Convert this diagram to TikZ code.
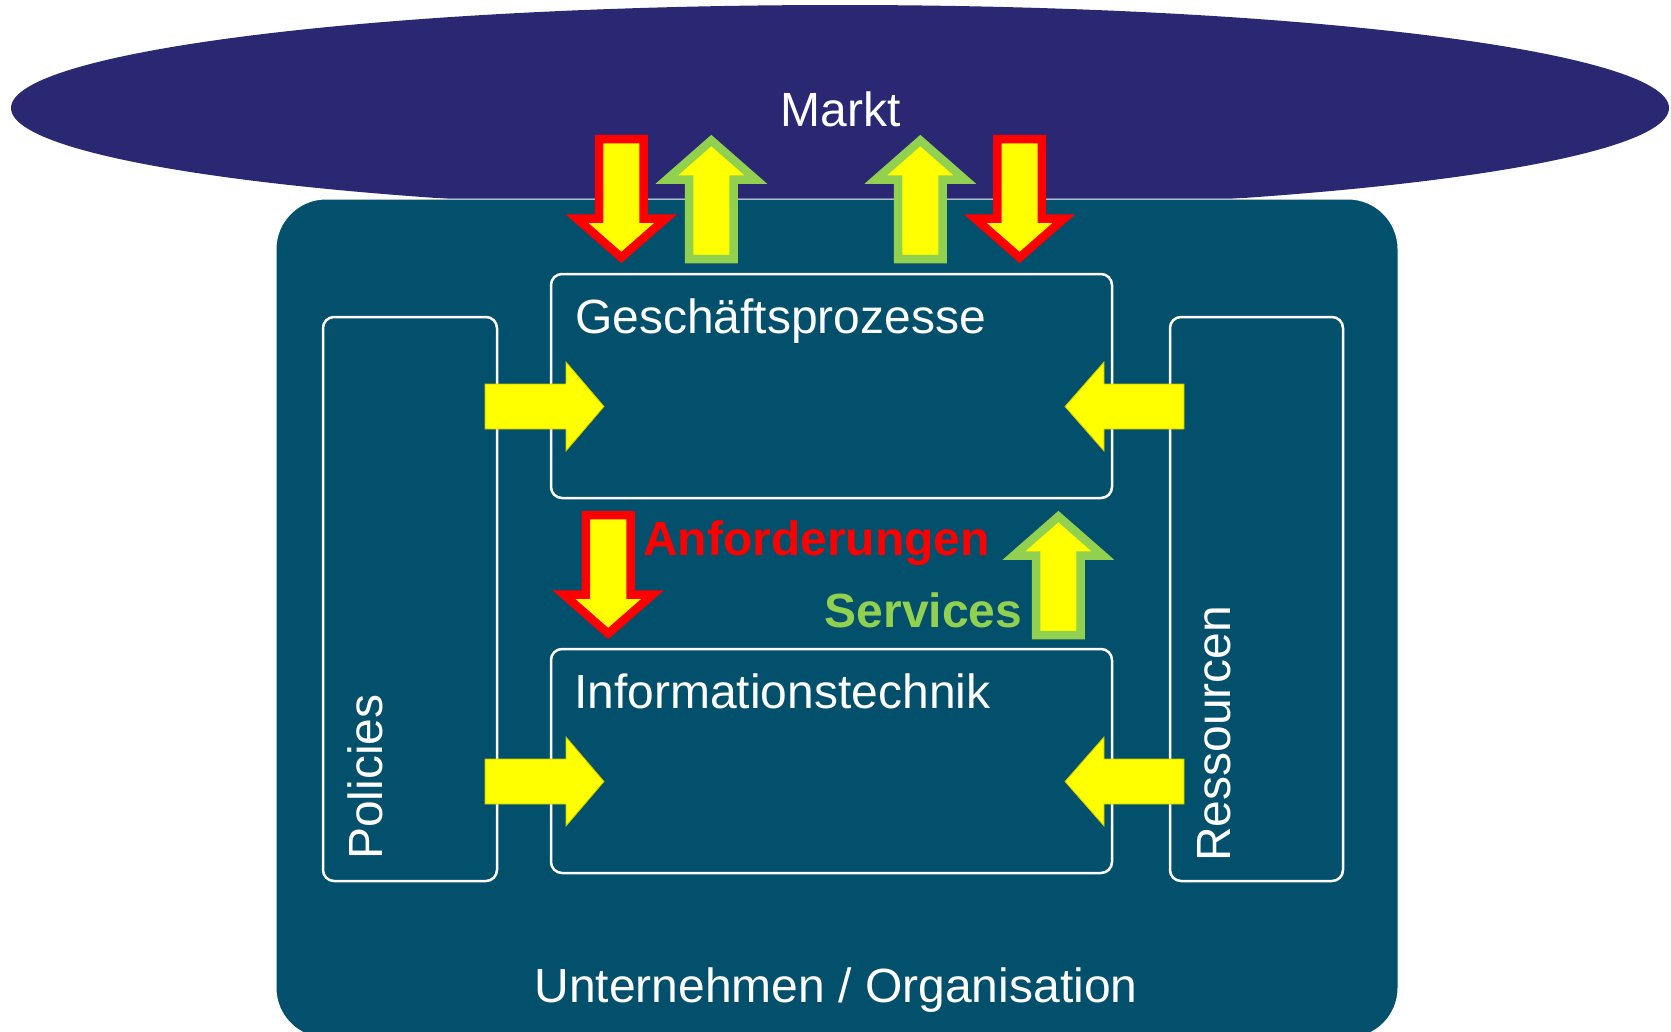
\documentclass[tikz,border=0pt]{standalone}
\usepackage{fontspec}
\setmainfont{Liberation Sans}
\definecolor{marktblue}{HTML}{2A2873}
\definecolor{orgblue}{HTML}{02506B}
\definecolor{arrowyellow}{HTML}{FFFF00}
\definecolor{arrowgreen}{HTML}{92D050}
\definecolor{arrowred}{HTML}{FF0000}
\definecolor{yellowedge}{HTML}{C8C800}
\newcommand{\downblock}[3]{%
  \draw[#3] (#1-22.3,#2) -- (#1+22.3,#2) -- (#1+22.3,#2+79.5) -- (#1+44.5,#2+79.5)
    -- (#1,#2+118.5) -- (#1-44.5,#2+79.5) -- (#1-22.3,#2+79.5) -- cycle;}
\newcommand{\upblock}[3]{%
  \draw[#3] (#1-22.3,#2) -- (#1+22.3,#2) -- (#1+22.3,#2-79.5) -- (#1+44.5,#2-79.5)
    -- (#1,#2-118.5) -- (#1-44.5,#2-79.5) -- (#1-22.3,#2-79.5) -- cycle;}
\newcommand{\rightblock}[1]{%
  \draw[hblock] (485,#1-22.5) -- (566,#1-22.5) -- (566,#1-44.5) -- (604,#1)
    -- (566,#1+44.5) -- (566,#1+22.5) -- (485,#1+22.5) -- cycle;}
\newcommand{\leftblock}[1]{%
  \draw[hblock] (1184,#1-22.5) -- (1104,#1-22.5) -- (1104,#1-44.5) -- (1065,#1)
    -- (1104,#1+44.5) -- (1104,#1+22.5) -- (1184,#1+22.5) -- cycle;}
\tikzset{
  redblock/.style={fill=arrowyellow, draw=arrowred, line width=8.5pt, line join=miter},
  greenblock/.style={fill=arrowyellow, draw=arrowgreen, line width=8.5pt, line join=miter},
  hblock/.style={fill=arrowyellow, draw=yellowedge, line width=0.8pt, line join=miter},
  innerbox/.style={draw=white, line width=2.5pt, rounded corners=11pt},
  bigtext/.style={text=white, inner sep=0pt, font=\fontsize{48}{58}\selectfont},
  boldlabel/.style={inner sep=0pt, font=\fontsize{48}{58}\selectfont\bfseries}
}
\begin{document}
\begin{tikzpicture}[x=1pt,y=-1pt]
\clip (0,0) rectangle (1671,1031);
\fill[white] (0,0) rectangle (1671,1031);
% Markt ellipse
\fill[marktblue] (840,108) ellipse [x radius=829, y radius=103];
% Organisation box
\draw[fill=orgblue, draw=white, line width=1pt, rounded corners=50pt] (276,199) rectangle (1398,1038);
% inner boxes
\draw[innerbox] (323,317) rectangle (497,881);
\draw[innerbox] (1170,317) rectangle (1343,881);
\draw[innerbox] (551,274) rectangle (1112,498);
\draw[innerbox] (551,649) rectangle (1112,873);
% horizontal yellow arrows
\rightblock{406.5}
\leftblock{406.5}
\rightblock{781.5}
\leftblock{781.5}
% top arrows (Markt)
\downblock{621.3}{139}{redblock}
\upblock{711.3}{259}{greenblock}
\upblock{920.3}{259}{greenblock}
\downblock{1019.6}{139}{redblock}
% middle arrows
\downblock{608.2}{515}{redblock}
\upblock{1058.4}{635}{greenblock}
% texts
\node[bigtext, anchor=base] (markt) at (840.5,126) {Markt};
\node[bigtext, anchor=base west] (gp) at (575,333) {Geschäftsprozesse};
\node[bigtext, anchor=base west] (it) at (574,708) {Informationstechnik};
\node[bigtext, anchor=base] (org) at (836,1002) {Unternehmen / Organisation};
\node[bigtext, anchor=base west, rotate=90] (pol) at (382,860) {Policies};
\node[bigtext, anchor=base west, rotate=90] (res) at (1230,862) {Ressourcen};
\node[boldlabel, text=arrowred, anchor=base west] (anf) at (643,555) {Anforderungen};
\node[boldlabel, text=arrowgreen, anchor=base west] (serv) at (824.5,627) {Services};
\end{tikzpicture}
\end{document}
